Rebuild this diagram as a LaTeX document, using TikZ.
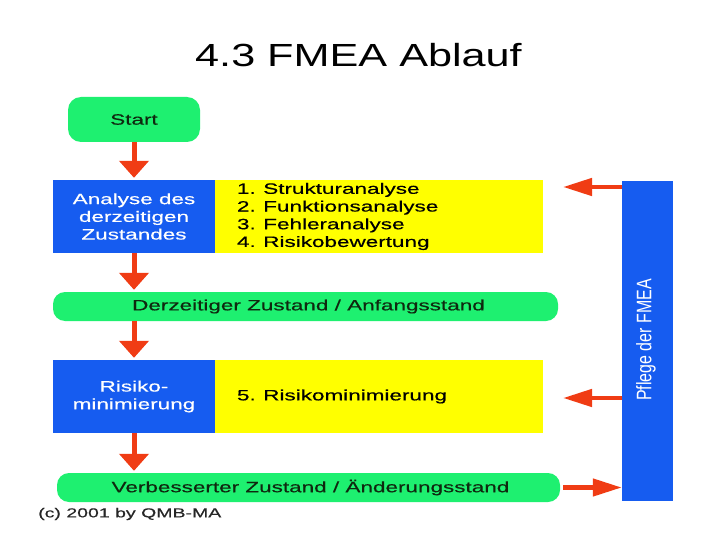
\documentclass[tikz,border=0pt]{standalone}
\usepackage{fontspec}
\setmainfont{Liberation Sans}
\newfontfamily\diagfont[FakeStretch=1.5,FakeBold=0.4]{Liberation Sans}
\newfontfamily\titlefont[FakeStretch=1.35]{Liberation Sans}
\newfontfamily\pflegefont[FakeStretch=0.76]{Liberation Sans}
\usetikzlibrary{arrows.meta}
\definecolor{fgreen}{RGB}{30,240,112}
\definecolor{fblue}{RGB}{22,92,240}
\definecolor{fyellow}{RGB}{255,255,0}
\definecolor{fred}{RGB}{240,60,20}
\definecolor{ftext}{RGB}{15,40,15}
\tikzset{
  greenbox/.style={fill=fgreen, draw=none, rounded corners=13pt, inner sep=0pt,
    text=ftext, font=\diagfont\fontsize{15}{17.7}\selectfont},
  bluebox/.style={fill=fblue, draw=none, inner sep=0pt, minimum width=162pt, minimum height=73pt,
    text=white, align=center, font=\diagfont\fontsize{15}{17.7}\selectfont},
  yellowbox/.style={fill=fyellow, draw=none, inner xsep=22pt, inner ysep=0pt,
    minimum width=328pt, minimum height=73pt, text width=284pt, align=left,
    text=black, font=\diagfont\fontsize{15}{17.7}\selectfont},
  downarrow/.style={draw=fred, line width=5pt, -{Triangle[length=17pt,width=29pt]}, shorten >=2pt},
  sidearrow/.style={draw=fred, line width=4.5pt, -{Triangle[length=29pt,width=17pt]}}
}
\begin{document}
\begin{tikzpicture}[x=1pt,y=-1pt]
\useasboundingbox (0,0) rectangle (720,540);
\fill[white] (0,0) rectangle (720,540);
% title
\node[anchor=base, inner sep=0pt, font=\titlefont\fontsize{32}{36}\selectfont] (title) at (358.5,67) {4.3 FMEA Ablauf};
% flow
\node[greenbox, minimum width=132pt, minimum height=45pt] (start) at (134,119.5) {Start};
\node[bluebox] (ana) at (134,216.5) {Analyse des\\derzeitigen\\Zustandes};
\node[yellowbox] (steps) at (379,216.5) {1. Strukturanalyse\\2. Funktionsanalyse\\3. Fehleranalyse\\4. Risikobewertung};
\node[greenbox, minimum width=505pt, minimum height=29pt, rounded corners=12pt] (cur) at (305.5,306.5) {\hspace*{6pt}Derzeitiger Zustand / Anfangsstand};
\node[bluebox] (risk) at (134,396.5) {Risiko-\\minimierung};
\node[yellowbox] (step5) at (379,396.5) {5. Risikominimierung};
\node[greenbox, minimum width=503pt, minimum height=29pt, rounded corners=12pt] (impr) at (308.5,487.5) {\hspace*{4pt}Verbesserter Zustand / \"Anderungsstand};
\node[fill=fblue, inner sep=0pt, minimum width=51pt, minimum height=320pt, text=white,
      font=\pflegefont\fontsize{21}{21}\selectfont] (pflege) at (647.5,341) {};
\node[rotate=90, inner sep=0pt, text=white, font=\pflegefont\fontsize{21}{21}\selectfont] (pflegetext) at (646,340) {Pflege der FMEA};
% copyright
\node[anchor=west, inner sep=0pt, text=black!85, font=\diagfont\fontsize{13}{15}\selectfont] (copy) at (38,514) {(c) 2001 by QMB-MA};
% vertical arrows
\draw[downarrow] (start.south) -- (ana.north);
\draw[downarrow] (ana.south) -- (ana.south |- cur.north);
\draw[downarrow] (ana.south |- cur.south) -- (risk.north);
\draw[downarrow] (risk.south) -- (risk.south |- impr.north);
% side arrows
\coordinate (t1) at (563,187);
\coordinate (t2) at (563,398);
\draw[sidearrow] (pflege.west |- t1) -- (t1);
\draw[sidearrow] (pflege.west |- t2) -- (t2);
\draw[sidearrow, shorten <=3pt] (impr.east) -- (pflege.west |- impr.east);
\end{tikzpicture}
\end{document}
